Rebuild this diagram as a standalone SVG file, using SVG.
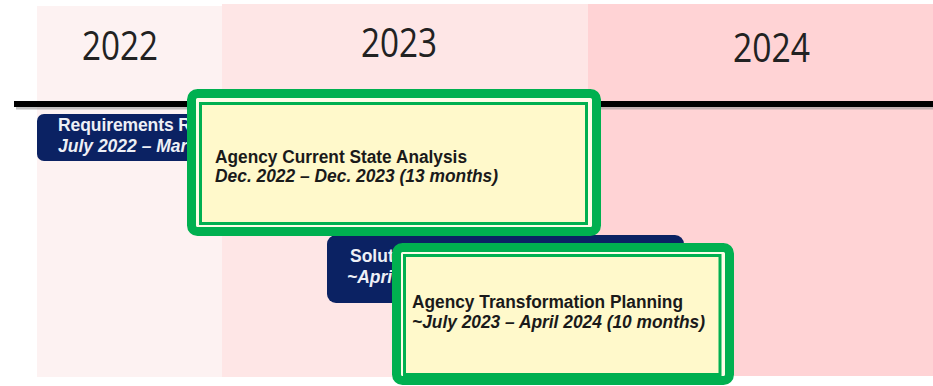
<svg xmlns="http://www.w3.org/2000/svg" width="933" height="386" viewBox="0 0 933 386">
<style>
.year{font-family:"Open Sans","Liberation Sans",sans-serif;font-size:40px;fill:#222}
.navy{fill:#0b2263}
.ntxt{font-family:"Liberation Sans",Arial,sans-serif;font-size:17.5px;font-weight:bold;fill:#eef0f6}
.outer{fill:#fdfde8;stroke:#00b050;stroke-width:9}
.inner{fill:#fff9cb;stroke:#00b050;stroke-width:3}
.btxt{font-family:"Liberation Sans",Arial,sans-serif;font-size:18px;font-weight:bold;fill:#1a1a1a}
.it{font-style:italic}
</style>
<rect width="933" height="386" fill="#fff"/>
<g id="columns">
<rect x="37" y="6" width="185" height="371" fill="#fdf2f2"/>
<rect x="222" y="4" width="366" height="373" fill="#fee6e6"/>
<rect x="588" y="4" width="345" height="372" fill="#ffd3d5"/>
<text class="year" x="82" y="60" textLength="76" lengthAdjust="spacingAndGlyphs">2022</text>
<text class="year" x="361" y="57" textLength="76" lengthAdjust="spacingAndGlyphs">2023</text>
<text class="year" x="733" y="62" textLength="77" lengthAdjust="spacingAndGlyphs">2024</text>
</g>
<g id="timeline">
<line x1="16" y1="108" x2="933" y2="108" stroke="#9a9a9a" stroke-width="3" opacity="0.6"/>
<line x1="14" y1="104" x2="933" y2="104" stroke="#000" stroke-width="6"/>
</g>
<g id="requirements">
<rect class="navy" x="37" y="114" width="230" height="47" rx="7"/>
<text class="ntxt" x="58" y="131" textLength="133" lengthAdjust="spacing">Requirements R</text>
<text class="ntxt it" x="58" y="152">July 2022 – Mar</text>
</g>
<g id="solution-design">
<rect class="navy" x="327" y="235" width="357" height="68" rx="9"/>
<text class="ntxt" x="350" y="262">Solut</text>
<text class="ntxt it" x="347" y="283">~Apri</text>
</g>
<g id="current-state">
<rect class="outer" x="191.5" y="93.5" width="405" height="138" rx="6"/>
<rect class="inner" x="200.5" y="103.5" width="386" height="120"/>
<text class="btxt" x="215" y="163" textLength="252" lengthAdjust="spacingAndGlyphs">Agency Current State Analysis</text>
<text class="btxt it" x="215" y="182" textLength="283" lengthAdjust="spacingAndGlyphs">Dec. 2022 – Dec. 2023 (13 months)</text>
</g>
<g id="transformation">
<rect class="outer" x="396.5" y="247.5" width="333" height="133" rx="6"/>
<rect class="inner" x="404.5" y="255.5" width="315.5" height="119"/>
<text class="btxt" x="412" y="308" textLength="271" lengthAdjust="spacingAndGlyphs">Agency Transformation Planning</text>
<text class="btxt it" x="412" y="328" textLength="293" lengthAdjust="spacingAndGlyphs">~July 2023 – April 2024 (10 months)</text>
</g>
</svg>
